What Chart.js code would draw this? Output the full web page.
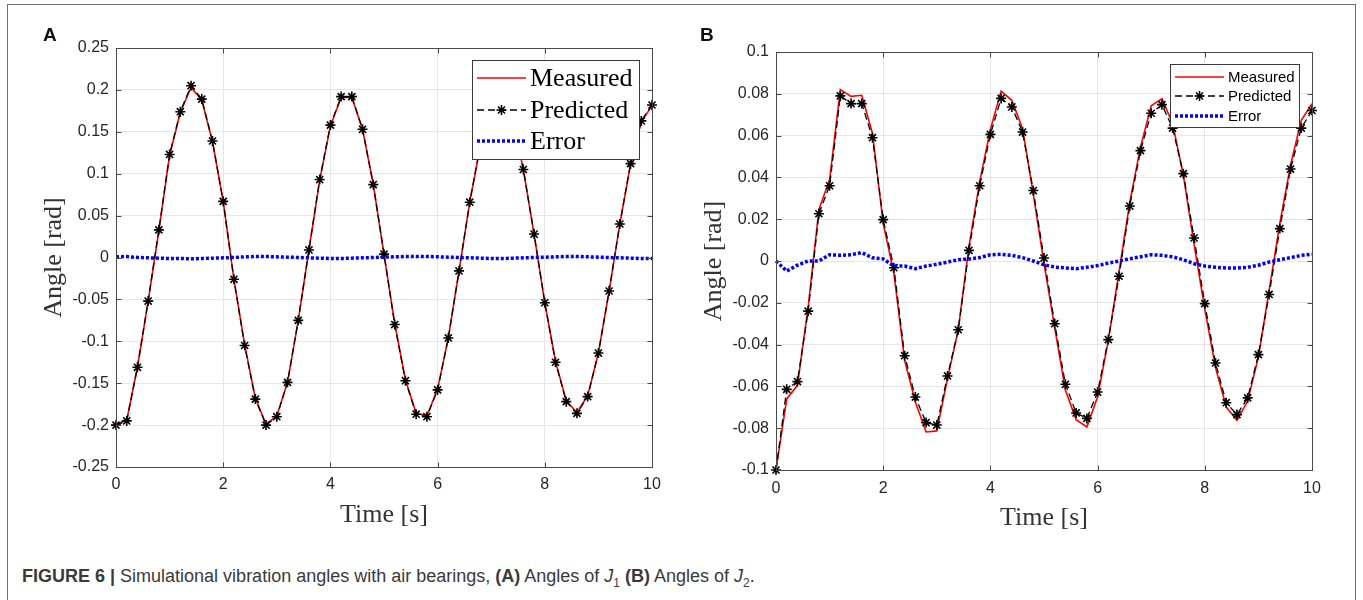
<!DOCTYPE html>
<html>
<head>
<meta charset="utf-8">
<script src="https://cdn.jsdelivr.net/npm/chart.js@4.4.1/dist/chart.umd.min.js"></script>
<style>
  body { margin: 0; background: #fff; width: 1363px; height: 600px; overflow: hidden; position: relative; font-family: "Liberation Sans", Arial, sans-serif; }
  #frame { position: absolute; left: 7px; top: 4px; width: 1347px; height: 700px; border: 1.5px solid #6f6f6f; }
  canvas { position: absolute; top: 0; }
  #cA { left: 0; }
  #cB { left: 680px; }
  .tag { position: absolute; top: 26px; font-weight: bold; font-size: 19px; line-height: 18px; color: #111; }
  #caption { position: absolute; left: 22px; top: 567px; font-size: 18px; line-height: 18px; color: #3a3a3a; white-space: nowrap; }
  #caption sub { font-size: 12px; color: #3a3a3a; }
</style>
</head>
<body>
<div id="frame"></div>
<canvas id="cA" width="680" height="540"></canvas>
<canvas id="cB" width="683" height="540"></canvas>
<div class="tag" style="left:43px">A</div>
<div class="tag" style="left:700px">B</div>
<div id="caption"><b>FIGURE 6 |</b> Simulational vibration angles with air bearings, <b>(A)</b> Angles of <i>J</i><sub>1</sub> <b>(B)</b> Angles of <i>J</i><sub>2</sub>.</div>

<script>
// sample times [s], every 0.2 s
const timeS = [0, 0.2, 0.4, 0.6, 0.8, 1.0, 1.2, 1.4, 1.6, 1.8,
  2.0, 2.2, 2.4, 2.6, 2.8, 3.0, 3.2, 3.4, 3.6, 3.8,
  4.0, 4.2, 4.4, 4.6, 4.8, 5.0, 5.2, 5.4, 5.6, 5.8,
  6.0, 6.2, 6.4, 6.6, 6.8, 7.0, 7.2, 7.4, 7.6, 7.8,
  8.0, 8.2, 8.4, 8.6, 8.8, 9.0, 9.2, 9.4, 9.6, 9.8, 10.0];

// panel A - angles of J1
const measuredA = [-0.199, -0.194, -0.131, -0.052, 0.032, 0.122, 0.173, 0.203, 0.188, 0.138,
  0.067, -0.026, -0.104, -0.168, -0.199, -0.189, -0.149, -0.075, 0.009, 0.092,
  0.157, 0.191, 0.191, 0.153, 0.087, 0.004, -0.079, -0.146, -0.186, -0.189,
  -0.157, -0.096, -0.016, 0.066, 0.134, 0.177, 0.191, 0.164, 0.105, 0.028,
  -0.054, -0.124, -0.171, -0.185, -0.165, -0.114, -0.040, 0.040, 0.111, 0.162, 0.181];
const predictedA = [-0.200, -0.195, -0.131, -0.052, 0.033, 0.123, 0.174, 0.205, 0.189, 0.139,
  0.067, -0.026, -0.105, -0.169, -0.200, -0.190, -0.149, -0.075, 0.009, 0.093,
  0.158, 0.192, 0.192, 0.153, 0.087, 0.004, -0.080, -0.147, -0.187, -0.190,
  -0.158, -0.096, -0.016, 0.066, 0.135, 0.178, 0.192, 0.165, 0.105, 0.028,
  -0.054, -0.125, -0.172, -0.186, -0.166, -0.114, -0.040, 0.040, 0.112, 0.163, 0.182];
const errorA = [0.0008, 0.0012, 0, -0.0004, -0.0008, -0.0012, -0.0012, -0.0016, -0.0012, -0.0008,
  -0.0004, 0, 0.0008, 0.0012, 0.0012, 0.0008, 0.0004, 0, -0.0004, -0.0008,
  -0.0012, -0.0012, -0.0008, -0.0004, 0, 0.0004, 0.0008, 0.0012, 0.0012, 0.0012,
  0.0008, 0.0004, 0, -0.0004, -0.0008, -0.0012, -0.0012, -0.0008, -0.0004, 0,
  0.0004, 0.0008, 0.0012, 0.0012, 0.0008, 0.0004, 0, -0.0004, -0.0008, -0.0012, -0.0012];

// panel B - angles of J2
const measuredB = [-0.100, -0.066, -0.0595, -0.022, 0.0246, 0.039, 0.082, 0.0788, 0.0793, 0.061,
  0.018, -0.006, -0.0475, -0.0675, -0.0818, -0.0813, -0.0563, -0.033, 0.007, 0.038,
  0.063, 0.0813, 0.0769, 0.0633, 0.032, -0.001, -0.032, -0.0619, -0.0759, -0.0794,
  -0.065, -0.038, -0.005, 0.028, 0.0545, 0.0743, 0.0777, 0.0657, 0.041, 0.008,
  -0.023, -0.051, -0.0699, -0.0762, -0.067, -0.046, -0.014, 0.018, 0.046, 0.0673, 0.0753];
const predictedB = [-0.100, -0.0614, -0.0577, -0.024, 0.0226, 0.036, 0.079, 0.0753, 0.0753, 0.059,
  0.0198, -0.0032, -0.0453, -0.0651, -0.0773, -0.0785, -0.055, -0.0329, 0.0051, 0.036,
  0.0606, 0.0778, 0.0737, 0.0617, 0.0337, 0.0014, -0.030, -0.059, -0.0727, -0.0753,
  -0.0627, -0.0376, -0.0073, 0.0263, 0.0528, 0.0707, 0.0748, 0.0636, 0.0418, 0.011,
  -0.0204, -0.0488, -0.0678, -0.0735, -0.0655, -0.0448, -0.016, 0.0155, 0.044, 0.0636, 0.072];
const errorB = [0, -0.0048, -0.002, 0, 0, 0.003, 0.0027, 0.003, 0.004, 0.0015,
  0.001, -0.0024, -0.0024, -0.0037, -0.0024, -0.0016, -0.0005, 0.0006, 0.001, 0.0016,
  0.003, 0.0032, 0.0027, 0.0016, 0, -0.0018, -0.0029, -0.0033, -0.0037, -0.003,
  -0.0022, -0.001, 0, 0.0011, 0.002, 0.003, 0.0027, 0.002, 0.0006, -0.0013,
  -0.0024, -0.003, -0.0034, -0.0034, -0.003, -0.002, -0.0005, 0.0006, 0.0016, 0.0027, 0.0032];

const seriesNames = ['Measured', 'Predicted', 'Error'];

// MATLAB-like box with inward ticks on all four sides
const boxPlugin = {
  id: 'matlabBox',
  afterDatasetsDraw(chart) {
    const ctx = chart.ctx;
    const {left, right, top, bottom} = chart.chartArea;
    const L = Math.round(left) + 0.5, R = Math.round(right) + 0.5;
    const T = Math.round(top) + 0.5, B = Math.round(bottom) + 0.5;
    ctx.save();
    ctx.strokeStyle = '#4a4a4a';
    ctx.lineWidth = 1;
    ctx.setLineDash([]);
    ctx.strokeRect(L, T, R - L, B - T);
    ctx.beginPath();
    chart.scales.x.ticks.forEach(t => {
      const px = Math.round(chart.scales.x.getPixelForValue(t.value)) + 0.5;
      ctx.moveTo(px, B); ctx.lineTo(px, B - 5);
      ctx.moveTo(px, T); ctx.lineTo(px, T + 5);
    });
    chart.scales.y.ticks.forEach(t => {
      const py = Math.round(chart.scales.y.getPixelForValue(t.value)) + 0.5;
      ctx.moveTo(L, py); ctx.lineTo(L + 5, py);
      ctx.moveTo(R, py); ctx.lineTo(R - 5, py);
    });
    ctx.stroke();
    ctx.restore();
  }
};

// legend drawn inside the axes, like MATLAB's "northeast" legend
const boxLegend = {
  id: 'boxLegend',
  afterDraw(chart, args, o) {
    const ctx = chart.ctx;
    ctx.save();
    ctx.fillStyle = '#fff';
    ctx.fillRect(o.x, o.y, o.w, o.h);
    ctx.strokeStyle = '#3a3a3a';
    ctx.lineWidth = 1;
    ctx.strokeRect(o.x + 0.5, o.y + 0.5, o.w, o.h);
    chart.data.datasets.forEach((ds, i) => {
      const y = o.rows[i];
      ctx.strokeStyle = ds.borderColor;
      ctx.lineWidth = ds.borderWidth;
      ctx.setLineDash(ds.borderDash || []);
      ctx.beginPath();
      ctx.moveTo(o.x0, y);
      ctx.lineTo(o.x1, y);
      ctx.stroke();
      ctx.setLineDash([]);
      if (ds.pointRadius) {
        ctx.strokeStyle = ds.pointBorderColor;
        ctx.lineWidth = ds.pointBorderWidth;
        Chart.helpers.drawPoint(ctx, {pointStyle: ds.pointStyle, radius: ds.pointRadius, rotation: 0, borderWidth: ds.pointBorderWidth}, (o.x0 + o.x1) / 2, y);
      }
      ctx.fillStyle = '#000';
      ctx.font = o.font;
      ctx.textBaseline = 'middle';
      ctx.textAlign = 'left';
      ctx.fillText(ds.label, o.tx, y + o.dy);
    });
    ctx.restore();
  }
};

const pts = arr => timeS.map((t, i) => ({x: t, y: arr[i]}));

function makeChart(id, c) {
  return new Chart(document.getElementById(id), {
    type: 'line',
    data: {
      datasets: [
        { label: seriesNames[0], data: pts(c.meas), borderColor: '#ff0000', borderWidth: 1.6,
          pointRadius: 0, order: 2, clip: false },
        { label: seriesNames[1], data: pts(c.pred), borderColor: '#000000', borderWidth: 1.3,
          borderDash: [7, 4], pointStyle: 'star', pointRadius: 5, pointBorderWidth: 1.6,
          pointBorderColor: '#000000', order: 1, clip: false },
        { label: seriesNames[2], data: pts(c.err), borderColor: '#0000ff', borderWidth: 3.5,
          borderDash: [3, 2], pointRadius: 0, order: 0, clip: false }
      ]
    },
    options: {
      responsive: false,
      animation: false,
      events: [],
      layout: { padding: { left: 0, top: c.top, right: c.right, bottom: 0 } },
      elements: { line: { tension: 0 } },
      plugins: {
        legend: { display: false },
        tooltip: { enabled: false },
        boxLegend: c.legend
      },
      scales: {
        x: {
          type: 'linear', min: 0, max: 10,
          ticks: { stepSize: 2, padding: c.xTickPad, color: '#262626', maxRotation: 0,
                   font: { family: 'Liberation Sans', size: 16 } },
          grid: { color: '#e6e6e6', drawTicks: false },
          border: { display: false },
          title: { display: true, text: 'Time [s]', color: '#333',
                   font: { family: 'Liberation Serif', size: 26 },
                   padding: { top: 0, bottom: c.xTitlePad } },
          afterFit: s => { s.height = c.xH; }
        },
        y: {
          min: c.yMin, max: c.yMax,
          ticks: { stepSize: c.yStep, padding: 7, color: '#262626',
                   font: { family: 'Liberation Sans', size: 16 },
                   callback: v => String(parseFloat(v.toFixed(3))) },
          grid: { color: '#e6e6e6', drawTicks: false },
          border: { display: false },
          title: { display: true, text: 'Angle [rad]', color: '#333',
                   font: { family: 'Liberation Serif', size: 26 },
                   padding: { top: c.yTitlePad, bottom: 0 } },
          afterFit: s => { s.width = c.yW; }
        }
      }
    },
    plugins: [boxPlugin, boxLegend]
  });
}

makeChart('cA', {
  meas: measuredA, pred: predictedA, err: errorA,
  yMin: -0.25, yMax: 0.25, yStep: 0.05,
  top: 48, right: 28, yW: 116, xH: 73, xTickPad: 8, xTitlePad: 9, yTitlePad: 39,
  legend: { x: 472, y: 60, w: 167, h: 99, rows: [78, 110, 141], x0: 477, x1: 526, tx: 530, dy: 1,
            font: "26px 'Liberation Serif'" }
});

makeChart('cB', {
  meas: measuredB, pred: predictedB, err: errorB,
  yMin: -0.1, yMax: 0.1, yStep: 0.02,
  top: 52, right: 51, yW: 96, xH: 70, xTickPad: 9, xTitlePad: 6, yTitlePad: 19,
  legend: { x: 490, y: 64, w: 129, h: 63, rows: [77, 96, 116], x0: 495, x1: 544, tx: 548, dy: 1,
            font: "15px 'Liberation Sans'" }
});
</script>
</body>
</html>
